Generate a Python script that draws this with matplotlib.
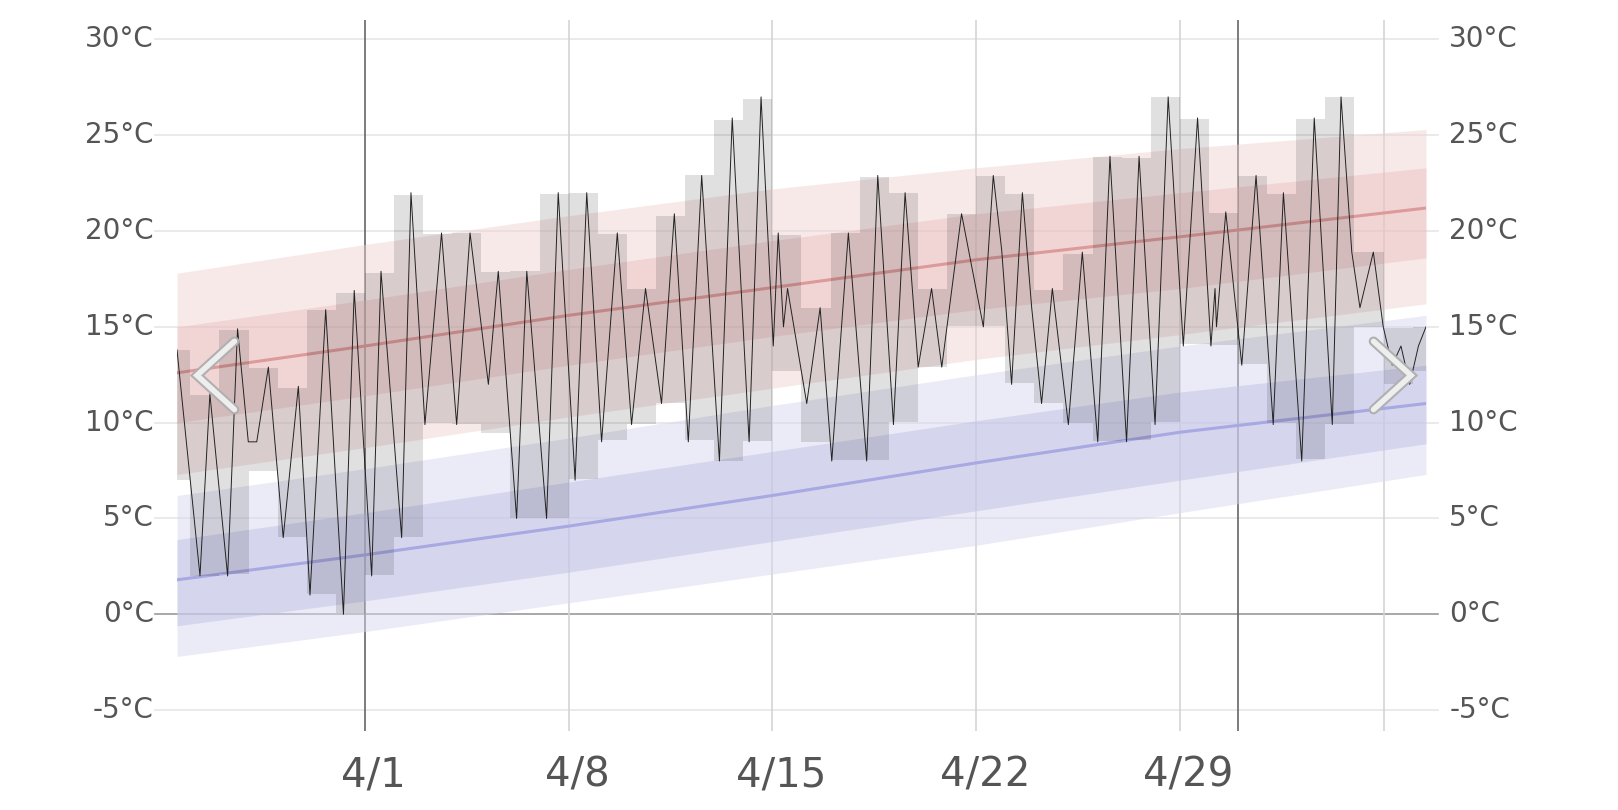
import numpy as np
import matplotlib
matplotlib.use("Agg")
import matplotlib.pyplot as plt

# observed extremes: (day offset from 4/1 00:00, temperature °C)
obs_day = [-6.46,-5.67,-5.33,-4.72,-4.38,-4.01,-3.72,-3.32,-2.81,-2.29,-1.89,-1.35,-0.74,-0.37,0.23,0.55,1.26,1.58,2.06,2.63,3.15,3.61,4.24,4.58,5.21,5.56,6.24,6.64,
           7.22,7.62,8.13,8.67,9.16,9.64,10.19,10.63,11.11,11.57,12.18,12.62,13.2,13.61,14.03,14.2,14.38,14.52,15.18,15.64,16.04,16.61,17.24,17.62,18.16,18.56,19.01,19.47,19.82,20.5,
           21.25,21.59,21.88,22.22,22.59,22.91,23.25,23.62,24.17,24.65,25.18,25.6,26.17,26.6,27.15,27.6,28.12,28.61,29.07,29.21,29.26,29.58,30.13,30.62,31.21,31.56,32.19,32.62,33.24,33.54,33.91,34.19,34.65,34.99,35.3,35.6,35.9,36.2,36.46]
obs_temp = [13.8,2.0,11.5,2.0,14.9,9.0,9.0,12.9,4.0,11.9,1.0,15.9,0.0,16.9,2.0,17.9,4.0,22.0,9.9,19.9,9.9,19.9,12.0,17.9,5.0,17.9,5.0,22.0,
            7.0,22.0,9.0,19.9,9.9,17.0,11.0,20.9,9.0,22.9,8.0,25.9,9.0,27.0,14.0,19.9,15.0,17.0,11.0,16.0,8.0,19.9,8.0,22.9,9.9,22.0,12.9,17.0,12.9,20.9,
            15.0,22.9,19.0,12.0,22.0,16.0,11.0,17.0,9.9,18.9,9.0,23.9,9.0,23.9,9.9,27.0,14.0,25.9,14.0,17.0,15.0,21.0,13.0,22.9,9.9,22.0,8.0,25.9,9.9,27.0,18.9,16.0,18.9,15.0,13.0,14.0,12.0,14.0,15.0]

# climate normals
norm_day = [-6.46, 0, 7, 14, 21, 28, 36.46]
hi_mean = [12.6, 14.0, 15.6, 17.05, 18.5, 19.7, 21.2]
hi_outer_top = [17.8, 19.3, 20.8, 22.2, 23.3, 24.3, 25.3]
hi_inner_top = [15.0, 16.4, 18.0, 19.5, 20.9, 22.0, 23.3]
hi_inner_bot = [10.0, 11.4, 13.0, 14.5, 15.9, 17.0, 18.6]
hi_outer_bot = [7.3, 8.7, 10.3, 11.8, 13.3, 14.6, 16.2]
lo_mean = [1.8, 3.1, 4.6, 6.2, 7.9, 9.5, 11.0]
lo_outer_top = [6.2, 7.6, 9.2, 10.9, 12.5, 14.0, 15.6]
lo_inner_top = [3.9, 5.3, 6.9, 8.5, 10.1, 11.6, 13.0]
lo_inner_bot = [-0.6, 0.7, 2.2, 3.8, 5.4, 7.0, 8.9]
lo_outer_bot = [-2.2, -0.9, 0.6, 2.1, 3.6, 5.3, 7.3]

x_ticks = [0, 7, 14, 21, 28]
x_labels = ["4/1", "4/8", "4/15", "4/22", "4/29"]
month_lines = [0, 30]
week_lines = [7, 14, 21, 28, 35]
y_ticks = [-5, 0, 5, 10, 15, 20, 25, 30]

fig = plt.figure(figsize=(16.18, 8.1), dpi=100)
ax = fig.add_axes([177/1618, 0.098, (1426-177)/1618, 0.877])
x0, x1 = -6.46, 36.46
ax.set_xlim(x0, x1)
ax.set_ylim(-6.07, 31)
for s in ax.spines.values():
    s.set_visible(False)
ax.set_xticks([]); ax.set_yticks([])

# grid
for y in y_ticks:
    ax.plot([x0-0.75, x1+0.4], [y, y], color="#999999" if y == 0 else "#e6e6e6",
            lw=1.2, clip_on=False, zorder=0)
for d in week_lines:
    ax.axvline(d, color="#d4d4d4", lw=1.2, zorder=0)
for d in month_lines:
    ax.axvline(d, color="#666666", lw=1.2, zorder=0)

# normal bands
ax.fill_between(norm_day, hi_outer_bot, hi_outer_top, color="#f0d0d0", alpha=0.45, lw=0, zorder=1)
ax.fill_between(norm_day, hi_inner_bot, hi_inner_top, color="#e8b8b8", alpha=0.4, lw=0, zorder=1)
ax.plot(norm_day, hi_mean, color="#dc9a9a", lw=2.2, zorder=2)
ax.fill_between(norm_day, lo_outer_bot, lo_outer_top, color="#d8d8f0", alpha=0.5, lw=0, zorder=1)
ax.fill_between(norm_day, lo_inner_bot, lo_inner_top, color="#c0c0e6", alpha=0.5, lw=0, zorder=1)
ax.plot(norm_day, lo_mean, color="#a8a8e2", lw=2.2, zorder=2)

# daily range boxes
dense_x = np.linspace(x0, x1, 5000)
dense_y = np.interp(dense_x, obs_day, obs_temp)
start = np.floor(x0)
while start < x1:
    a, b = max(start, x0), min(start + 1, x1)
    m = (dense_x >= a) & (dense_x <= b)
    if m.any():
        lo, hi = dense_y[m].min(), dense_y[m].max()
        ax.fill_between([a, b], [lo, lo], [hi, hi], color="black", alpha=0.12, lw=0, zorder=3)
    start += 1

ax.plot(obs_day, obs_temp, color="#222222", lw=0.7, zorder=4)

# labels
for y in y_ticks:
    ax.text(x0-0.8, y, f"{y}°C", ha="right", va="center", fontsize=20, color="#555555", clip_on=False)
    ax.text(x1+0.8, y, f"{y}°C", ha="left", va="center", fontsize=20, color="#555555", clip_on=False)
for d, l in zip(x_ticks, x_labels):
    ax.text(d+0.3, -8.4, l, ha="center", va="center", fontsize=29, color="#555555", clip_on=False)

# navigation chevrons
def chevron(xs, ys):
    ax.plot(xs, ys, transform=ax.transAxes, color="#b0b0b0", lw=7, solid_capstyle="round",
            solid_joinstyle="miter", zorder=6)
    ax.plot(xs, ys, transform=ax.transAxes, color="#eeeeee", lw=4, solid_capstyle="round",
            solid_joinstyle="miter", zorder=7)
chevron([0.046, 0.016, 0.046], [0.548, 0.5, 0.452])
chevron([0.958, 0.988, 0.958], [0.548, 0.5, 0.452])

fig.savefig("out.png", dpi=100)
